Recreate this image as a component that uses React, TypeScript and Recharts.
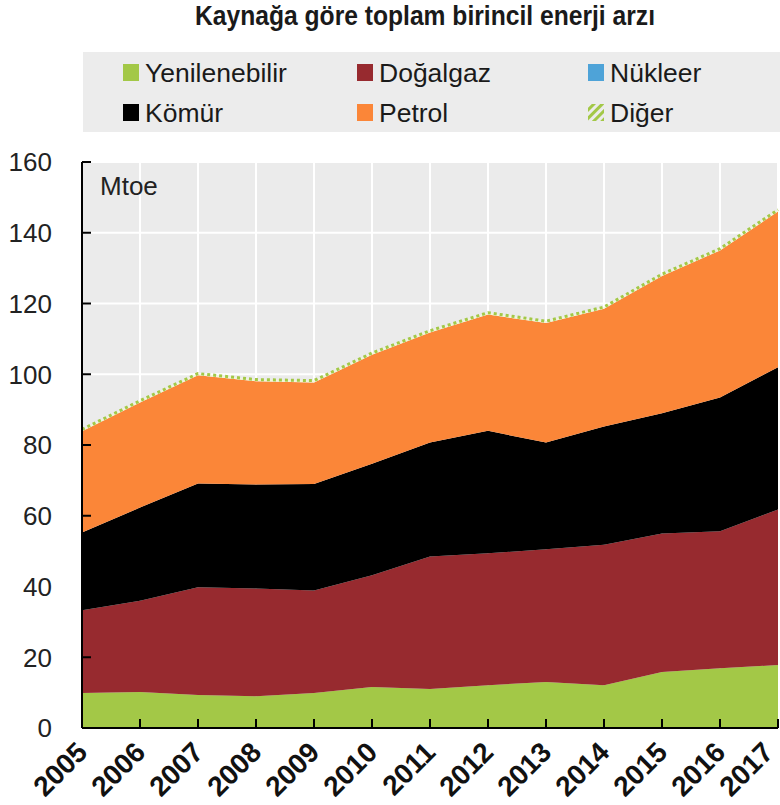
import { AreaChart, Area, XAxis, YAxis, CartesianGrid } from "recharts";

const YEARS = ["2005", "2006", "2007", "2008", "2009", "2010", "2011", "2012", "2013", "2014", "2015", "2016", "2017"];

// Mtoe by source, stacked bottom to top
const RENEWABLES = [9.9, 10.2, 9.3, 9.0, 9.9, 11.6, 11.0, 12.1, 13.0, 12.1, 15.8, 16.9, 17.8];
const GAS = [23.4, 25.8, 30.5, 30.4, 29.0, 31.6, 37.5, 37.3, 37.5, 39.7, 39.2, 38.7, 44.0];
const COAL = [22.0, 26.3, 29.3, 29.4, 30.1, 31.5, 32.2, 34.6, 30.2, 33.4, 34.0, 37.8, 40.2];
const NUCLEAR = [0, 0, 0, 0, 0, 0, 0, 0, 0, 0, 0, 0, 0];
const OIL = [28.6, 29.7, 30.6, 29.2, 28.7, 30.8, 31.1, 32.9, 33.8, 33.3, 38.8, 41.6, 44.0];
const OTHER = [0.5, 0.5, 0.5, 0.5, 0.5, 0.5, 0.5, 0.5, 0.5, 0.5, 0.5, 0.5, 0.5];

const Y_TICKS = [0, 20, 40, 60, 80, 100, 120, 140, 160];

const GREEN = "#a3c847";
const RED = "#972a2f";
const BLUE = "#4ea3d8";
const BLACK = "#000000";
const ORANGE = "#fb8638";

const FONT = "'Liberation Sans', Arial, sans-serif";

const data = YEARS.map((year, i) => ({
  year,
  renewables: RENEWABLES[i],
  gas: GAS[i],
  coal: COAL[i],
  nuclear: NUCLEAR[i],
  oil: OIL[i],
  other: OTHER[i],
}));

const legendRows = [
  [
    { label: "Yenilenebilir", color: GREEN },
    { label: "Doğalgaz", color: RED },
    { label: "Nükleer", color: BLUE },
  ],
  [
    { label: "Kömür", color: BLACK },
    { label: "Petrol", color: ORANGE },
    { label: "Diğer", color: "hatch" },
  ],
];
const LEGEND_COLS = [123, 357, 588];
const LEGEND_BASE = [82, 122];

function YearTick(props: any) {
  const { x, y, payload, index } = props;
  // the last label sits on the right edge, pull it in so it stays readable
  const shift = index === YEARS.length - 1 ? -3 : 7;
  return (
    <g>
      <line x1={x} x2={x} y1={y} y2={y - 9} stroke="#000" strokeWidth={2} />
      <text
        transform={`translate(${x + shift},${y + 26}) rotate(-45)`}
        textAnchor="end"
        fontSize={28}
        fontWeight="bold"
        fontFamily={FONT}
        fill="#111"
      >
        {payload.value}
      </text>
    </g>
  );
}

function ValueTick(props: any) {
  const { x, y, payload } = props;
  return (
    <g>
      <line x1={x} x2={x + 9} y1={y} y2={y} stroke="#000" strokeWidth={2} />
      <text x={x - 30} y={y} dy="0.36em" textAnchor="end" fontSize={26} fontFamily={FONT} fill="#222">
        {payload.value}
      </text>
    </g>
  );
}

function Header() {
  return (
    <svg width={780} height={140} style={{ position: "absolute", left: 0, top: 0 }}>
      <defs>
        <pattern id="otherHatch" width="6" height="6" patternUnits="userSpaceOnUse" patternTransform="rotate(45)">
          <rect width="6" height="6" fill="#ececec" />
          <rect width="3" height="6" fill={GREEN} />
        </pattern>
      </defs>
      <text
        x={425}
        y={25}
        textAnchor="middle"
        fontSize={28}
        fontWeight="bold"
        fontFamily={FONT}
        fill="#1a1a1a"
        textLength={460}
        lengthAdjust="spacingAndGlyphs"
      >
        Kaynağa göre toplam birincil enerji arzı
      </text>
      <rect x={83} y={52} width={697} height={80} fill="#ececec" />
      {legendRows.map((row, r) =>
        row.map((item, c) => (
          <g key={item.label}>
            <rect
              x={LEGEND_COLS[c]}
              y={LEGEND_BASE[r] - 18}
              width={16}
              height={17}
              fill={item.color === "hatch" ? "url(#otherHatch)" : item.color}
            />
            <text x={LEGEND_COLS[c] + 22} y={LEGEND_BASE[r]} fontSize={26.5} fontFamily={FONT} fill="#1a1a1a">
              {item.label}
            </text>
          </g>
        ))
      )}
    </svg>
  );
}

export default function App() {
  return (
    <div style={{ position: "absolute", left: 0, top: 0, width: 780, height: 805, background: "#fff", overflow: "hidden" }}>
      <Header />
      <div style={{ position: "absolute", left: 0, top: 0 }}>
        <AreaChart width={780} height={805} data={data} margin={{ top: 162, right: 2, bottom: 0, left: 0 }}>
          <CartesianGrid fill="#ebebeb" stroke="#ffffff" strokeWidth={2} />
          <XAxis
            dataKey="year"
            height={77}
            tickSize={0}
            tickMargin={0}
            tick={<YearTick />}
            axisLine={{ stroke: "#000", strokeWidth: 2 }}
            interval={0}
          />
          <YAxis
            width={82}
            domain={[0, 160]}
            ticks={Y_TICKS}
            tickSize={0}
            tickMargin={0}
            tick={<ValueTick />}
            axisLine={{ stroke: "#000", strokeWidth: 2 }}
            interval={0}
          />
          <Area dataKey="renewables" stackId="a" type="linear" fill={GREEN} fillOpacity={1} stroke="none" isAnimationActive={false} />
          <Area dataKey="gas" stackId="a" type="linear" fill={RED} fillOpacity={1} stroke="none" isAnimationActive={false} />
          <Area dataKey="coal" stackId="a" type="linear" fill={BLACK} fillOpacity={1} stroke="none" isAnimationActive={false} />
          <Area dataKey="nuclear" stackId="a" type="linear" fill={BLUE} fillOpacity={1} stroke="none" isAnimationActive={false} />
          <Area dataKey="oil" stackId="a" type="linear" fill={ORANGE} fillOpacity={1} stroke="none" isAnimationActive={false} />
          <Area
            dataKey="other"
            stackId="a"
            type="linear"
            fill="#f3f6dc"
            fillOpacity={1}
            stroke={GREEN}
            strokeWidth={3}
            strokeDasharray="3 3"
            isAnimationActive={false}
          />
        </AreaChart>
      </div>
      <svg width={200} height={60} style={{ position: "absolute", left: 0, top: 160 }}>
        <text x={100} y={35} fontSize={26} fontFamily={FONT} fill="#222">
          Mtoe
        </text>
      </svg>
    </div>
  );
}
